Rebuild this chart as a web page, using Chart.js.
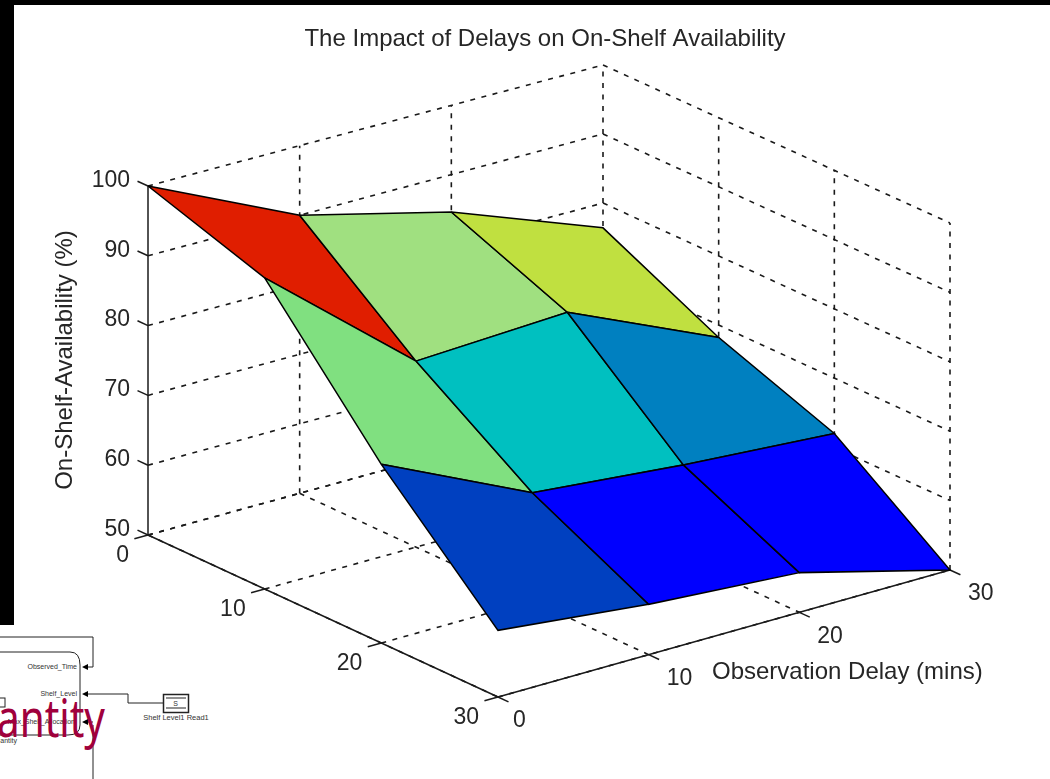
<!DOCTYPE html>
<html>
<head>
<meta charset="utf-8">
<title>The Impact of Delays on On-Shelf Availability</title>
<script src="https://cdn.jsdelivr.net/npm/chart.js@4"></script>
<style>
  html, body { margin: 0; padding: 0; background: #fff; overflow: hidden; }
  #page { position: relative; width: 1050px; height: 779px; overflow: hidden; }
  #chart-box { position: absolute; left: 0; top: 0; width: 1050px; height: 779px; }
  .strip { position: absolute; background: #000; }
  #backdrop { position: absolute; left: 0; top: 0; }
  #backdrop text { font-family: "Liberation Sans", Arial, sans-serif; fill: #333; }
</style>
</head>
<body>
<div id="page">
  <div class="strip" style="left:0;top:0;width:1050px;height:5px"></div>
  <div class="strip" style="left:0;top:0;width:14px;height:625px"></div>
  <svg id="backdrop" width="1050" height="779">
    <g fill="none" stroke="#222" stroke-width="1">
      <path d="M0 637H93V667H84"/>
      <path d="M0 652H70Q80 652 80 665V725Q80 735 68 735H0"/>
      <path d="M163 703H128V694H84"/>
      <rect x="163.5" y="694.5" width="25" height="18" stroke-width="1.5"/>
      <path d="M166 698H186M166 708H186"/>
      <path d="M93 725V779M84 722H93"/>
      <rect x="-4" y="698" width="9" height="9"/>
    </g>
    <path d="M82 667l6-3v6zM82 694l6-3v6zM82 722l6-3v6z" fill="#000"/>
    <text x="77" y="669" font-size="7" text-anchor="end">Observed_Time</text>
    <text x="77" y="696" font-size="7" text-anchor="end">Shelf_Level</text>
    <text x="75" y="724" font-size="7" text-anchor="end">Max_Shelf_Allocation</text>
    <text x="17" y="743" font-size="7" text-anchor="end">antity</text>
    <text x="175.5" y="705.5" font-size="7" text-anchor="middle">S</text>
    <text x="176" y="720" font-size="7.5" text-anchor="middle">Shelf Level1 Read1</text>
    <text x="-3" y="737" font-size="52" textLength="108" lengthAdjust="spacingAndGlyphs"
          style='font-family:"Noto Sans",sans-serif;fill:#a0003c'>antity</text>
  </svg>
  <div id="chart-box"><canvas id="surfaceChart"></canvas></div>
</div>
<script>
const titleText = "The Impact of Delays on On-Shelf Availability";
const zLabel = "On-Shelf-Availability (%)";
const delayLabel = "Observation Delay (mins)";

const delayTicks = [0, 10, 20, 30];
const zTicks = [50, 60, 70, 80, 90, 100];

// one row per left axis tick, one column per observation delay tick
const availabilityRow0 = [100, 90, 84.6, 76.4];
const availabilityRow1 = [94.5, 76.7, 77.8, 68.2];
const availabilityRow2 = [75.5, 65.5, 63.5, 62];
const availabilityRow3 = [59.5, 57.2, 55.7, 50];
const availability = [availabilityRow0, availabilityRow1, availabilityRow2, availabilityRow3];

const cellColours = [
  ["#e01e00", "#a0e080", "#c0e040"],
  ["#80e080", "#00c0c0", "#0080c0"],
  ["#0040c0", "#0000ff", "#0000ff"],
];

// fixed view of the box, same idea as view(az, el) in the original plot.
// The twist and height terms stand in for the slight perspective of the screenshot.
const view = {
  originX: 148, originY: 535,
  aX: 350 / 30, aY: 162 / 30,
  bX: 455 / 30, bY: -125 / 30,
  twistX: -3 / 900, twistY: -2 / 900,
  height: 349, heightA: 2 / 30, heightB: -4 / 30,
};

function project(a, b, z) {
  const h = view.height + a * view.heightA + b * view.heightB;
  return {
    x: view.originX + a * view.aX + b * view.bX + a * b * view.twistX,
    y: view.originY + a * view.aY + b * view.bY + a * b * view.twistY - ((z - 50) / 50) * h,
  };
}

const INK = "#1a1a1a";
const maxTick = delayTicks[delayTicks.length - 1];
const floorZ = zTicks[0];
const topZ = zTicks[zTicks.length - 1];

function line(points, dashed) {
  return {
    data: points,
    showLine: true,
    fill: false,
    tension: 0,
    pointRadius: 0,
    borderColor: INK,
    borderWidth: dashed ? 1.6 : 1.5,
    borderDash: dashed ? [5, 6.5] : [],
  };
}

const datasets = [];

// dashed box: floor and the two back walls
delayTicks.forEach((t) => {
  datasets.push(line([project(t, 0, floorZ), project(t, maxTick, floorZ)], true));
  datasets.push(line([project(0, t, floorZ), project(maxTick, t, floorZ)], true));
  if (t > 0) {
    datasets.push(line([project(0, t, floorZ), project(0, t, topZ)], true));
    datasets.push(line([project(t, maxTick, floorZ), project(t, maxTick, topZ)], true));
  }
});
zTicks.forEach((z) => {
  datasets.push(line([project(0, 0, z), project(0, maxTick, z)], true));
  datasets.push(line([project(0, maxTick, z), project(maxTick, maxTick, z)], true));
});

// solid axes and tick marks
datasets.push(line([project(0, 0, floorZ), project(0, 0, topZ)], false));
datasets.push(line([project(0, 0, floorZ), project(maxTick, 0, floorZ)], false));
datasets.push(line([project(maxTick, 0, floorZ), project(maxTick, maxTick, floorZ)], false));
zTicks.forEach((z) => {
  datasets.push(line([project(-0.9, 0, z), project(0, 0, z)], false));
});
delayTicks.forEach((t) => {
  datasets.push(line([project(t, -0.9, floorZ), project(t, 0, floorZ)], false));
  datasets.push(line([project(maxTick, t, floorZ), project(maxTick + 0.9, t, floorZ)], false));
});

// surface, back cells first
cellColours.forEach((row, i) => {
  row.forEach((colour, j) => {
    const corners = [
      project(delayTicks[i], delayTicks[j], availability[i][j]),
      project(delayTicks[i], delayTicks[j + 1], availability[i][j + 1]),
      project(delayTicks[i + 1], delayTicks[j + 1], availability[i + 1][j + 1]),
      project(delayTicks[i + 1], delayTicks[j], availability[i + 1][j]),
    ];
    corners.push(corners[0]);
    datasets.push({
      data: corners,
      showLine: true,
      fill: "shape",
      tension: 0,
      pointRadius: 0,
      backgroundColor: colour,
      borderColor: "#000",
      borderWidth: 1.5,
    });
  });
});

// later datasets go on top
datasets.forEach((ds, i) => { ds.order = datasets.length - i; });

const axisText = {
  id: "axisText",
  afterDraw(chart) {
    const { ctx, scales } = chart;
    const put = (text, p, dx, dy, align) => {
      ctx.textAlign = align;
      ctx.fillText(text, scales.x.getPixelForValue(p.x) + dx, scales.y.getPixelForValue(p.y) + dy);
    };
    ctx.save();
    ctx.fillStyle = "#262626";
    ctx.font = '23px "Liberation Sans", Arial, sans-serif';
    ctx.textBaseline = "middle";
    zTicks.forEach((z) => put(String(z), project(0, 0, z), -18, -5.5, "right"));
    delayTicks.forEach((t) => {
      put(String(t), project(t, 0, floorZ), -19, 21, "right");
      put(String(t), project(maxTick, t, floorZ), t === 0 ? 15 : 18, 24, "left");
    });
    ctx.font = '24px "Liberation Sans", Arial, sans-serif';
    ctx.textAlign = "left";
    ctx.fillText(delayLabel, 712, 672);
    ctx.translate(65, 360);
    ctx.rotate(-Math.PI / 2);
    ctx.textAlign = "center";
    ctx.fillText(zLabel, 0, 0);
    ctx.restore();
  },
};

new Chart(document.getElementById("surfaceChart"), {
  type: "scatter",
  data: { datasets },
  plugins: [axisText],
  options: {
    responsive: true,
    maintainAspectRatio: false,
    animation: false,
    layout: { padding: { left: 40 } },
    plugins: {
      legend: { display: false },
      tooltip: { enabled: false },
      title: {
        display: true,
        text: titleText,
        color: "#262626",
        font: { family: '"Liberation Sans", Arial, sans-serif', size: 24, weight: "normal", lineHeight: 1.2 },
        padding: { top: 25, bottom: 6.2 },
      },
    },
    scales: {
      x: { type: "linear", display: false, min: 40, max: 1050 },
      y: { type: "linear", display: false, min: 60, max: 779, reverse: true },
    },
  },
});
</script>
</body>
</html>
